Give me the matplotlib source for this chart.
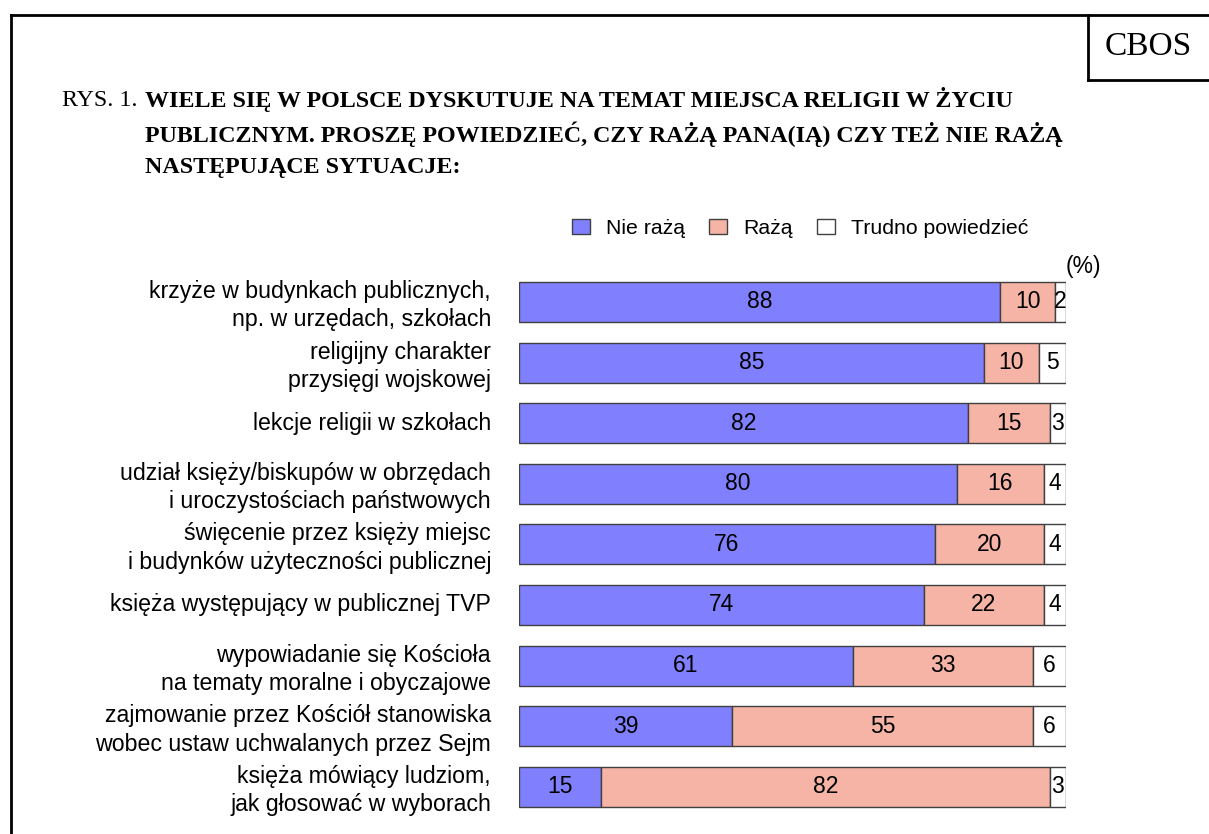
import matplotlib.pyplot as plt
from matplotlib.lines import Line2D
from matplotlib.patches import Patch

categories = [
    "krzyże w budynkach publicznych,\nnp. w urzędach, szkołach",
    "religijny charakter\nprzysięgi wojskowej",
    "lekcje religii w szkołach",
    "udział księży/biskupów w obrzędach\ni uroczystościach państwowych",
    "święcenie przez księży miejsc\ni budynków użyteczności publicznej",
    "księża występujący w publicznej TVP",
    "wypowiadanie się Kościoła\nna tematy moralne i obyczajowe",
    "zajmowanie przez Kościół stanowiska\nwobec ustaw uchwalanych przez Sejm",
    "księża mówiący ludziom,\njak głosować w wyborach",
]
nie_raza = [88, 85, 82, 80, 76, 74, 61, 39, 15]
raza = [10, 10, 15, 16, 20, 22, 33, 55, 82]
trudno = [2, 5, 3, 4, 4, 4, 6, 6, 3]
series_names = ["Nie rażą", "Rażą", "Trudno powiedzieć"]
colors = ["#8080ff", "#f5b4a5", "#ffffff"]

W, H = 1209, 834
fig = plt.figure(figsize=(W / 100, H / 100), dpi=100)

# plot area placed in pixel terms of the reference
left, right = 519, 1066
row = 60.6
top = 302 - row / 2
bottom = top + row * len(categories)
ax = fig.add_axes([left / W, 1 - bottom / H, (right - left) / W, (bottom - top) / H])

sans = "Liberation Sans"
serif = "Liberation Serif"

ypos = list(range(len(categories)))
lefts = [0] * len(categories)
for vals, name, col in zip([nie_raza, raza, trudno], series_names, colors):
    bars = ax.barh(ypos, vals, left=lefts, height=0.66, color=col,
                   edgecolor="#404040", linewidth=1.0, label=name)
    ax.bar_label(bars, label_type="center", fontsize=16.5, family=sans)
    lefts = [a + b for a, b in zip(lefts, vals)]

ax.set_xlim(0, 100)
ax.set_ylim(len(categories) - 0.5, -0.5)
ax.axis("off")

label_x = (491 - left) / (right - left) * 100
for i, lab in enumerate(categories):
    dy = 0.06 if "\n" in lab else 0.0
    ax.text(label_x, i + dy, lab, ha="right", va="center", fontsize=16.7,
            family=sans, linespacing=1.3)

fig.text(1083 / W, 1 - 266 / H, "(%)", ha="center", va="center", fontsize=16.5, family=sans)

handles = [Patch(facecolor=c, edgecolor="#404040", linewidth=1.0) for c in colors]
fig.legend(handles, series_names, loc="center", bbox_to_anchor=(800 / W, 1 - 228 / H),
           ncol=3, frameon=False, prop={"family": sans, "size": 15.3},
           handlelength=0.85, handleheight=0.7, handletextpad=0.75, columnspacing=1.15)

# title
fig.text(62 / W, 1 - 100 / H, "RYS. 1.", ha="left", va="center",
         fontsize=17.3, family=serif)
title_lines = [
    "WIELE SIĘ W POLSCE DYSKUTUJE NA TEMAT MIEJSCA RELIGII W ŻYCIU",
    "PUBLICZNYM. PROSZĘ POWIEDZIEĆ, CZY RAŻĄ PANA(IĄ) CZY TEŻ NIE RAŻĄ",
    "NASTĘPUJĄCE SYTUACJE:",
]
for k, line in enumerate(title_lines):
    fig.text(145 / W, 1 - (100 + 34 * k) / H, line, ha="left", va="center",
             fontsize=17.3, family=serif, weight="bold")

# frame and CBOS box
lw = 2.0
fig.add_artist(Line2D([11 / W, 11 / W], [0, 1 - 15 / H], color="black", lw=lw))
fig.add_artist(Line2D([11 / W, 1], [1 - 15 / H, 1 - 15 / H], color="black", lw=lw))
fig.add_artist(Line2D([1088 / W, 1088 / W], [1 - 15 / H, 1 - 80 / H], color="black", lw=lw))
fig.add_artist(Line2D([1088 / W, 1], [1 - 80 / H, 1 - 80 / H], color="black", lw=lw))
fig.text(1148 / W, 1 - 47 / H, "CBOS", ha="center", va="center", fontsize=24, family=serif)

fig.savefig("out.png", dpi=100, facecolor="white")
